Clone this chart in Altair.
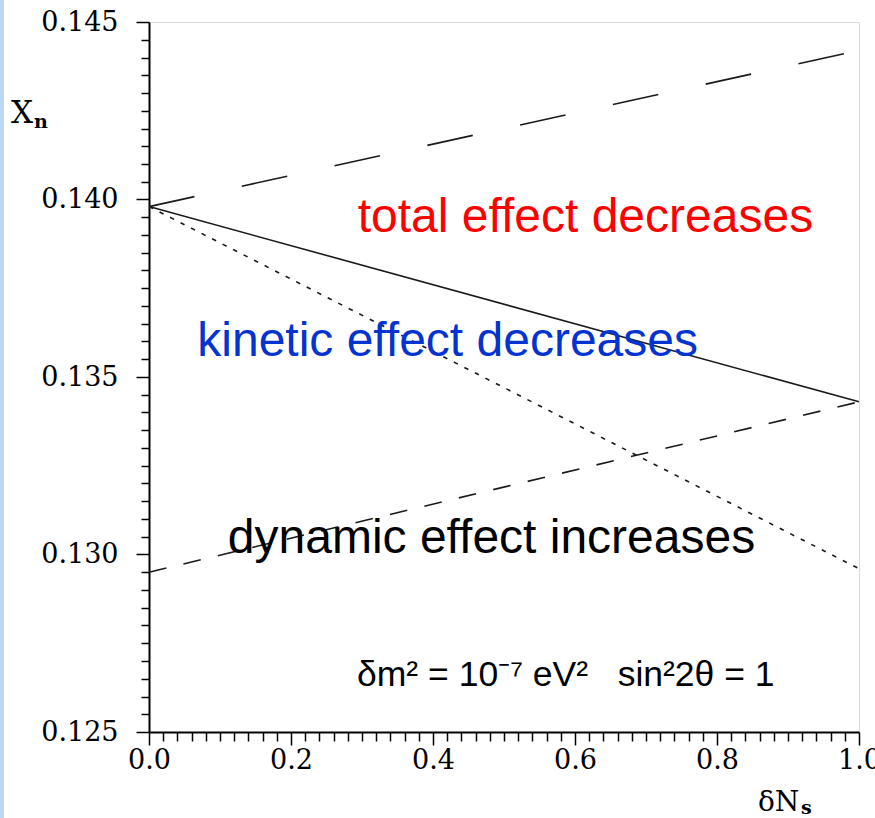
import altair as alt
import pandas as pd

# Abscissa: change in the number of sterile neutrino species
delta_ns = [0.0, 1.0]

# X_n curves at the two ends of the range
long_dash_curve = [0.1398, 0.1442]
solid_curve = [0.1398, 0.1343]
dash_curve = [0.1295, 0.1343]
dot_curve = [0.1398, 0.1296]

# Axis tick positions
x_ticks = [round(i * 0.02, 2) for i in range(51)]
y_ticks = [round(0.125 + i * 0.0005, 4) for i in range(41)]

# Annotation texts and their anchors in data units
note_text = [
    "total effect decreases",
    "kinetic effect decreases",
    "dynamic effect increases",
]
note_x = [0.294, 0.068, 0.111]
note_y = [0.13908, 0.13559, 0.13004]
note_color = ["#ff0000", "#0433d0", "#000000"]

NBSP = "\u00a0"
param_text = f"δm² = 10⁻⁷ eV²{NBSP*3}sin²2θ = 1"
param_x = 0.293
param_y = 0.1263

W, H = 710, 710

x_scale = alt.Scale(domain=[0, 1], nice=False, zero=False)
y_scale = alt.Scale(domain=[0.125, 0.145], nice=False, zero=False)

x_major = "round(datum.value * 50) % 10 == 0"
y_major = "round(datum.value * 2000) % 10 == 0"

x_axis = alt.Axis(
    values=x_ticks,
    tickCount=200,
    title=None,
    grid=False,
    labelExpr=f"{x_major} ? format(datum.value, '.1f') : ''",
    tickSize={"condition": {"test": x_major, "value": 13}, "value": 9},
    labelOverlap=False,
    labelFlush=False,
    labelPadding=2,
    labelFont="DejaVu Serif",
    labelFontSize=27,
    labelColor="black",
    domainColor="black",
    domainWidth=2,
    tickColor="black",
    tickWidth=1.5,
)
y_axis = alt.Axis(
    values=y_ticks,
    tickCount=200,
    title=None,
    grid=False,
    labelExpr=f"{y_major} ? format(datum.value, '.3f') : ''",
    tickSize={"condition": {"test": y_major, "value": 13}, "value": 8},
    labelOverlap=False,
    labelFlush=False,
    labelPadding=18,
    labelFont="DejaVu Serif",
    labelFontSize=27,
    labelColor="black",
    domainColor="black",
    domainWidth=2,
    tickColor="black",
    tickWidth=1.5,
)


def curve(values, dash=None):
    df = pd.DataFrame({"dNs": delta_ns, "Xn": values})
    kw = dict(color="#1a1a1a", strokeWidth=1.6)
    if dash:
        kw["strokeDash"] = dash
    return alt.Chart(df).mark_line(**kw).encode(
        x=alt.X("dNs:Q", scale=x_scale, axis=x_axis),
        y=alt.Y("Xn:Q", scale=y_scale, axis=y_axis),
    )


lines = [
    curve(long_dash_curve, [46.5, 48.5]),
    curve(solid_curve),
    curve(dash_curve, [17.8, 17.6]),
    curve(dot_curve, [4.5, 7.3]),
]

notes_df = pd.DataFrame(
    {"x": note_x, "y": note_y, "text": note_text, "color": note_color}
)
notes = alt.Chart(notes_df).mark_text(
    font="Liberation Sans", fontSize=48, align="left", baseline="alphabetic"
).encode(
    x=alt.X("x:Q", scale=x_scale),
    y=alt.Y("y:Q", scale=y_scale),
    text="text:N",
    color=alt.Color("color:N", scale=None),
)

params = alt.Chart(
    pd.DataFrame({"x": [param_x], "y": [param_y], "text": [param_text]})
).mark_text(
    font="Liberation Sans", fontSize=35.5, align="left", baseline="alphabetic", color="black"
).encode(
    x=alt.X("x:Q", scale=x_scale),
    y=alt.Y("y:Q", scale=y_scale),
    text="text:N",
)

# Axis titles: X with subscript n, δN with subscript s
title_df = pd.DataFrame({"t": [0]})
y_title = alt.Chart(title_df).mark_text(
    text="X", font="DejaVu Serif", fontSize=31, align="left", baseline="alphabetic", color="black"
).encode(x=alt.value(-138), y=alt.value(101))
y_title_sub = alt.Chart(title_df).mark_text(
    text="n", font="DejaVu Serif", fontWeight="bold", fontSize=19, align="left",
    baseline="alphabetic", color="black"
).encode(x=alt.value(-115), y=alt.value(106))
x_title = alt.Chart(title_df).mark_text(
    text="δN", font="DejaVu Serif", fontSize=28, align="left", baseline="alphabetic", color="black"
).encode(x=alt.value(609), y=alt.value(789))
x_title_sub = alt.Chart(title_df).mark_text(
    text="s", font="DejaVu Serif", fontWeight="bold", fontSize=19, align="left",
    baseline="alphabetic", color="black"
).encode(x=alt.value(652), y=alt.value(792))

# Thin light-blue band along the page's left edge
edge = alt.Chart(title_df).mark_rule(color="#bcd6f4", strokeWidth=4).encode(
    x=alt.value(-147), y=alt.value(-22), y2=alt.value(796)
)

chart = alt.layer(
    edge, *lines, notes, params, y_title, y_title_sub, x_title, x_title_sub
).properties(
    width=W,
    height=H,
    padding={"left": 149, "top": 22, "right": 16, "bottom": 86},
    autosize=alt.AutoSizeParams(type="none"),
).configure_view(
    stroke="black", strokeWidth=1.5
).configure(
    background="white"
)

chart.save("out.html", embed_options={"renderer": "svg", "actions": False})
